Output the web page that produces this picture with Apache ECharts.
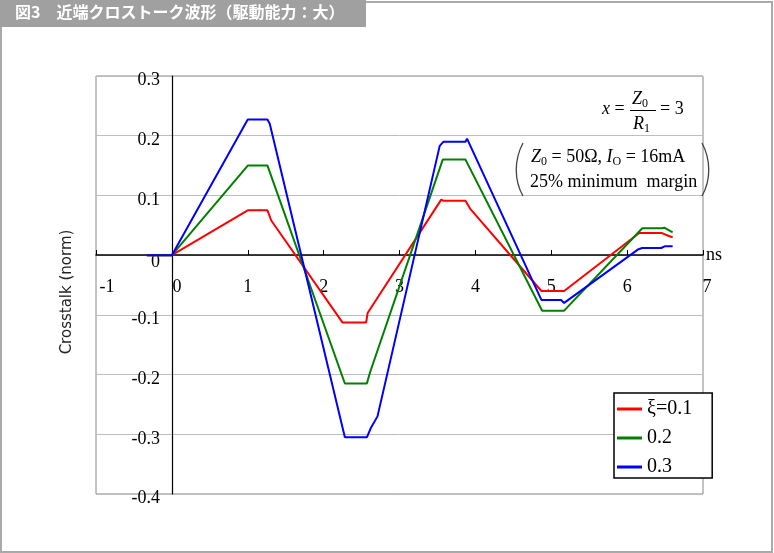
<!DOCTYPE html>
<html><head><meta charset="utf-8">
<script src="https://cdn.jsdelivr.net/npm/echarts@6/dist/echarts.min.js"></script>
<style>html,body{margin:0;padding:0;background:#fff}#c{width:774px;height:553px}</style>
</head><body><div id="c"></div>
<script>
const seriesNames = ['ξ=0.1', '0.2', '0.3'];
const seriesColors = ['#ff0000', '#008000', '#0000ff'];

const tRed = [-0.33, 0, 1.0, 1.26, 1.31, 2.25, 2.56, 2.58, 3.55, 3.58, 3.87, 3.93, 4.87, 5.17, 6.16, 6.46, 6.55, 6.6];
const vRed = [0, 0, 0.075, 0.075, 0.058, -0.113, -0.113, -0.097, 0.093, 0.091, 0.091, 0.078, -0.06, -0.06, 0.037, 0.037, 0.032, 0.030];

const tGreen = [-0.33, 0, 1.0, 1.26, 2.28, 2.57, 2.61, 3.57, 3.87, 4.88, 5.17, 6.2, 6.46, 6.49, 6.6];
const vGreen = [0, 0, 0.15, 0.15, -0.215, -0.215, -0.197, 0.16, 0.16, -0.093, -0.093, 0.045, 0.045, 0.046, 0.038];

const tBlue = [-0.33, 0, 1.0, 1.26, 1.29, 2.28, 2.57, 2.62, 2.71, 3.53, 3.58, 3.87, 3.89, 4.87, 5.13, 5.17, 6.15, 6.2, 6.45, 6.5, 6.6];
const vBlue = [0, 0, 0.227, 0.227, 0.22, -0.305, -0.305, -0.29, -0.27, 0.183, 0.19, 0.19, 0.195, -0.075, -0.075, -0.08, 0.01, 0.012, 0.012, 0.015, 0.015];

const xTicks = [-1, 0, 1, 2, 3, 4, 5, 6, 7];
const yTicks = [-0.4, -0.3, -0.2, -0.1, 0, 0.1, 0.2, 0.3];

const serif = '"Liberation Serif", "Times New Roman", serif';
const pair = (ts, vs) => ts.map((t, i) => [t, vs[i]]);
const allData = [pair(tRed, vRed), pair(tGreen, vGreen), pair(tBlue, vBlue)];

const G = {left: 96, right: 71, top: 76, bottom: 59};
const plotW = 774 - G.left - G.right, plotH = 553 - G.top - G.bottom;
const xMin = xTicks[0], xMax = xTicks[xTicks.length - 1];
const yMin = yTicks[0], yMax = yTicks[yTicks.length - 1];
const yAxisOffset = -Math.round((0 - xMin) / (xMax - xMin) * plotW);
const xAxisOffset = -Math.round((0 - yMin) / (yMax - yMin) * plotH);

const chart = echarts.init(document.getElementById('c'), null, {renderer: 'canvas'});
const lab = {fontFamily: serif, fontSize: 18, color: '#000'};
const sub = {fontFamily: serif, fontSize: 12, color: '#000', padding: [9, 0, 0, 0]};
const it = {fontFamily: serif, fontSize: 18, color: '#000', fontStyle: 'italic'};

chart.setOption({
  animation: false,
  backgroundColor: '#fff',
  grid: Object.assign({show: true, borderColor: '#888', borderWidth: 1, backgroundColor: 'transparent'}, G),
  xAxis: {
    type: 'value', min: xMin, max: xMax, interval: 1,
    position: 'bottom', offset: xAxisOffset,
    axisLine: {onZero: false, lineStyle: {color: '#000', width: 1.5}},
    axisTick: {show: true, inside: true, length: 5, lineStyle: {color: '#000'}},
    splitLine: {show: false},
    name: 'ns', nameLocation: 'end', nameGap: 3,
    nameTextStyle: {fontFamily: serif, fontSize: 18, color: '#000', padding: [0, 0, 8, 0]},
    axisLabel: {
      margin: 23, showMinLabel: true, showMaxLabel: true,
      fontFamily: serif, fontSize: 18, color: '#000',
      formatter: v => v === 0 ? '{z|0}' : v === -1 ? '{e|-1}' : v === 7 ? '{f|7}' : String(v),
      rich: {
        z: Object.assign({}, lab, {padding: [0, 0, 0, 10]}),
        e: Object.assign({}, lab, {padding: [0, 0, 0, 22]}),
        f: Object.assign({}, lab, {padding: [0, 0, 0, 8]})
      }
    }
  },
  yAxis: {
    type: 'value', min: yMin, max: yMax, interval: 0.1,
    position: 'left', offset: yAxisOffset,
    axisLine: {onZero: false, lineStyle: {color: '#000', width: 1.2}},
    axisTick: {show: false},
    splitLine: {show: true, lineStyle: {color: '#bdbdbd', width: 1}},
    axisLabel: {
      margin: 12, fontFamily: serif, fontSize: 18, color: '#000',
      showMinLabel: true, showMaxLabel: true,
      formatter: v => Math.abs(v) < 1e-9 ? '{z|0}' : '{a|' + v.toFixed(1) + '}',
      rich: {
        a: Object.assign({}, lab, {padding: [9, 0, 0, 0]}),
        z: Object.assign({}, lab, {padding: [14, 0, 0, 0]})
      }
    }
  },
  legend: {
    orient: 'vertical', left: 614, top: 393,
    data: seriesNames,
    icon: 'rect', itemWidth: 25, itemHeight: 3, itemGap: 9,
    backgroundColor: '#fff', borderColor: '#000', borderWidth: 1.5,
    padding: [6, 20, 1, 3],
    textStyle: {fontFamily: serif, fontSize: 20, color: '#000', lineHeight: 20}
  },
  series: seriesNames.map((n, i) => ({
    name: n, type: 'line', data: allData[i], showSymbol: false, symbol: 'none',
    color: seriesColors[i],
    lineStyle: {color: seriesColors[i], width: 2}, z: 3 + i
  })),
  graphic: [
    {type: 'rect', shape: {x: 1, y: 2, width: 771, height: 550}, style: {fill: 'none', stroke: '#aaa', lineWidth: 2}, z: 100},
    {type: 'rect', shape: {x: 0, y: 0, width: 366, height: 27}, style: {fill: '#a0a0a0'}, z: 101},
    {type: 'text', left: 15, top: 4, z: 102, style: {text: '図3　近端クロストーク波形（駆動能力：大）', fill: '#fff', font: 'bold 16px "Noto Sans CJK JP", sans-serif'}},
    {type: 'text', z: 10, x: 67, y: 292, rotation: Math.PI / 2,
      style: {text: 'Crosstalk (norm)', fill: '#222', font: '15px "DejaVu Sans", Verdana, sans-serif', align: 'center', verticalAlign: 'middle'}},
    {type: 'text', z: 10, x: 602, y: 109, style: {text: '{i|x} =', rich: {i: it}, fontFamily: serif, fontSize: 18, fill: '#000', verticalAlign: 'middle'}},
    {type: 'text', z: 10, x: 632, y: 99, style: {text: '{i|Z}{s|0}', rich: {i: it, s: sub}, verticalAlign: 'middle'}},
    {type: 'line', z: 10, shape: {x1: 630, y1: 110.5, x2: 656, y2: 110.5}, style: {stroke: '#000', lineWidth: 1}},
    {type: 'text', z: 10, x: 633, y: 124, style: {text: '{i|R}{s|1}', rich: {i: it, s: sub}, verticalAlign: 'middle'}},
    {type: 'text', z: 10, x: 660, y: 109, style: {text: '= 3', fontFamily: serif, fontSize: 18, fill: '#000', verticalAlign: 'middle'}},
    {type: 'bezierCurve', z: 10, shape: {x1: 523, y1: 143, cpx1: 514, cpy1: 160, cpx2: 514, cpy2: 180, x2: 523, y2: 196}, style: {stroke: '#444', lineWidth: 1.3, fill: 'none'}},
    {type: 'bezierCurve', z: 10, shape: {x1: 702, y1: 143, cpx1: 711, cpy1: 160, cpx2: 711, cpy2: 180, x2: 702, y2: 196}, style: {stroke: '#444', lineWidth: 1.3, fill: 'none'}},
    {type: 'text', z: 10, x: 531, y: 157, style: {text: '{i|Z}{s|0}{n| = 50Ω, }{i|I}{s|O}{n| = 16mA}', rich: {i: it, s: sub, n: lab}, verticalAlign: 'middle'}},
    {type: 'text', z: 10, x: 530, y: 182, style: {text: '25% minimum  margin', fontFamily: serif, fontSize: 18, fill: '#000', verticalAlign: 'middle'}}
  ]
});
</script>
</body></html>
